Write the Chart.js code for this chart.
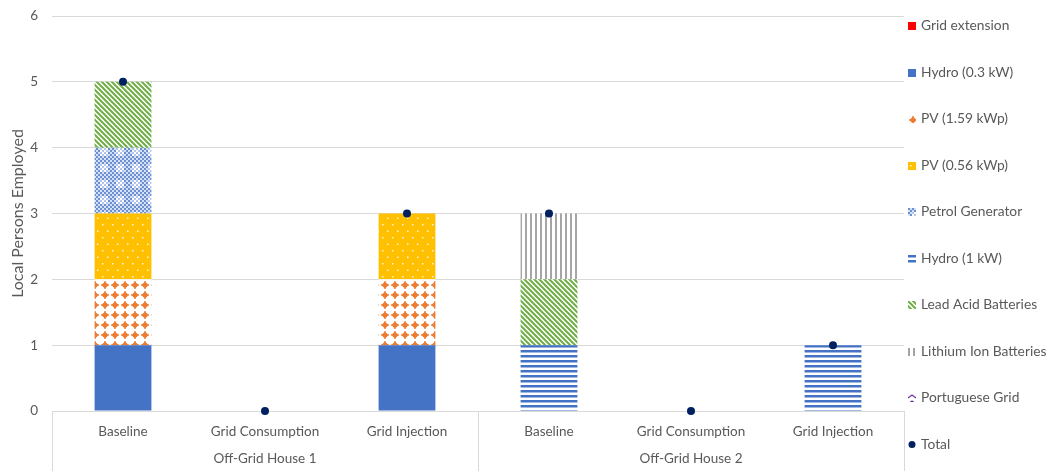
<!DOCTYPE html>
<html>
<head>
<meta charset="utf-8">
<title>Local Persons Employed</title>
<script src="https://cdn.jsdelivr.net/npm/chart.js@4"></script>
<style>
  body { margin: 0; background: #fff; }
  #chart { display: block; }
</style>
</head>
<body>
<canvas id="chart" width="1052" height="471"></canvas>
<script>
// categorias e grupos do eixo x
const categories = ['Baseline', 'Grid Consumption', 'Grid Injection', 'Baseline', 'Grid Consumption', 'Grid Injection'];
const groups = ['Off-Grid House 1', 'Off-Grid House 2'];
const yTicks = [0, 1, 2, 3, 4, 5, 6];

// pessoas empregadas por tecnologia (uma posição por categoria)
const gridExtension   = [0, 0, 0, 0, 0, 0];
const hydro03         = [1, 0, 1, 0, 0, 0];
const pv159           = [1, 0, 1, 0, 0, 0];
const pv056           = [1, 0, 1, 0, 0, 0];
const petrolGenerator = [1, 0, 0, 0, 0, 0];
const hydro1          = [0, 0, 0, 1, 0, 1];
const leadAcid        = [1, 0, 0, 1, 0, 0];
const lithiumIon      = [0, 0, 0, 1, 0, 0];
const portugueseGrid  = [0, 0, 0, 0, 0, 0];
const totals          = [5, 0, 3, 3, 0, 1];

const textColor = '#595959';
const fontFamily = 'Lato, "Liberation Sans", sans-serif';

var canvas = document.getElementById('chart');
var ctx = canvas.getContext('2d');

// * cria um padrão de preenchimento a partir de um ladrilho pequeno
function makePattern(w, h, draw) {
    var tile = document.createElement('canvas');
    tile.width = w;
    tile.height = h;
    var g = tile.getContext('2d');
    draw(g, w, h);
    return ctx.createPattern(tile, 'repeat');
}

var blue = '#4472C4', orange = '#ED7D31', yellow = '#FFC000', green = '#70AD47', gray = '#A5A5A5', purple = '#7030A0';

var patPv159 = makePattern(10, 10, function (g) {
    g.fillStyle = '#fff'; g.fillRect(0, 0, 10, 10);
    g.fillStyle = orange;
    g.beginPath(); g.arc(5, 5, 2.6, 0, Math.PI * 2); g.fill();
    g.fillRect(4.1, 1.2, 1.8, 7.6);
    g.fillRect(1.2, 4.1, 7.6, 1.8);
});

var patPv056 = makePattern(10, 13, function (g) {
    g.fillStyle = yellow; g.fillRect(0, 0, 10, 13);
    g.fillStyle = 'rgba(255,255,255,0.85)';
    g.fillRect(2, 3, 1.5, 1.5);
    g.fillRect(7, 9.5, 1.5, 1.5);
});

var patPetrol = makePattern(16, 16, function (g) {
    g.fillStyle = '#fff'; g.fillRect(0, 0, 16, 16);
    for (let x = 0; x < 16; x += 2) {
        for (let y = 0; y < 16; y += 2) {
            let inner = x >= 4 && x <= 10 && y >= 4 && y <= 10;
            if (((x + y) / 2) % 2 == 0) {
                g.fillStyle = inner ? '#b4c6e9' : '#6a8fd2';
                g.fillRect(x, y, 2, 2);
            } else if (!inner) {
                g.fillStyle = '#d6e0f3';
                g.fillRect(x, y, 2, 2);
            }
        }
    }
});

var patHydro1 = makePattern(4, 5, function (g) {
    g.fillStyle = '#fff'; g.fillRect(0, 0, 4, 5);
    g.fillStyle = blue; g.fillRect(0, 0, 4, 2.5);
});

var patLeadAcid = makePattern(5, 5, function (g) {
    g.fillStyle = '#fff'; g.fillRect(0, 0, 5, 5);
    g.strokeStyle = green; g.lineWidth = 2;
    g.beginPath();
    g.moveTo(-1, -1); g.lineTo(6, 6);
    g.moveTo(-1, 4); g.lineTo(1, 6);
    g.moveTo(4, -1); g.lineTo(6, 1);
    g.stroke();
});

var patLithium = makePattern(5, 4, function (g) {
    g.fillStyle = '#fff'; g.fillRect(0, 0, 5, 4);
    g.fillStyle = gray; g.fillRect(0, 0, 2, 4);
});

var patPortuguese = makePattern(8, 6, function (g) {
    g.fillStyle = '#fff'; g.fillRect(0, 0, 8, 6);
    g.strokeStyle = purple; g.lineWidth = 1.2;
    g.beginPath();
    g.moveTo(0, 4); g.lineTo(4, 1); g.lineTo(8, 4);
    g.stroke();
});

function barSet(label, values, fill) {
    return {
        type: 'bar',
        label: label,
        data: values,
        backgroundColor: fill,
        borderWidth: 0,
        stack: 'tecnologias',
        order: 1,
        categoryPercentage: 0.8,
        barPercentage: 0.5
    };
}

var datasets = [
    barSet('Grid extension', gridExtension, '#FF0000'),
    barSet('Hydro (0.3 kW)', hydro03, blue),
    barSet('PV (1.59 kWp)', pv159, patPv159),
    barSet('PV (0.56 kWp)', pv056, patPv056),
    barSet('Petrol Generator', petrolGenerator, patPetrol),
    barSet('Hydro (1 kW)', hydro1, patHydro1),
    barSet('Lead Acid Batteries', leadAcid, patLeadAcid),
    barSet('Lithium Ion Batteries', lithiumIon, patLithium),
    barSet('Portuguese Grid', portugueseGrid, patPortuguese),
    {
        type: 'line',
        label: 'Total',
        data: totals,
        stack: 'total',
        order: 0,
        clip: false,
        showLine: false,
        pointRadius: 4,
        pointBackgroundColor: '#002060',
        pointBorderColor: '#002060',
        pointBorderWidth: 0
    }
];

// * rótulos dos grupos e linhas divisórias abaixo do eixo x
var groupAxis = {
    id: 'groupAxis',
    afterDraw(chart) {
        var c = chart.ctx;
        var x = chart.scales.x;
        var area = chart.chartArea;
        var per = categories.length / groups.length;
        c.save();
        c.strokeStyle = '#D9D9D9';
        c.lineWidth = 1;
        var edges = [x.left];
        for (let i = 1; i < groups.length; i++) {
            edges.push((x.getPixelForTick(i * per - 1) + x.getPixelForTick(i * per)) / 2);
        }
        edges.push(x.right);
        edges.forEach(function (ex) {
            c.beginPath();
            c.moveTo(Math.round(ex) + 0.5, area.bottom);
            c.lineTo(Math.round(ex) + 0.5, chart.height);
            c.stroke();
        });
        c.fillStyle = textColor;
        c.font = '13.5px ' + fontFamily;
        c.textAlign = 'center';
        c.textBaseline = 'middle';
        groups.forEach(function (name, i) {
            c.fillText(name, (edges[i] + edges[i + 1]) / 2, area.bottom + 48);
        });
        c.restore();
    }
};

// * legenda vertical à direita
var sideLegend = {
    id: 'sideLegend',
    afterDraw(chart) {
        var c = chart.ctx;
        var x0 = chart.chartArea.right + 4;
        c.save();
        c.font = '13.8px ' + fontFamily;
        c.textBaseline = 'middle';
        c.textAlign = 'left';
        chart.data.datasets.forEach(function (ds, i) {
            var y = 26 + i * 46.5;
            if (ds.type == 'line') {
                c.fillStyle = ds.pointBackgroundColor;
                c.beginPath(); c.arc(x0 + 4, y, 3.5, 0, Math.PI * 2); c.fill();
            } else {
                // o padrão começa no canto do quadradinho
                c.save();
                c.translate(x0, Math.round(y - 4));
                c.fillStyle = ds.backgroundColor;
                c.fillRect(0, 0, 8, 8);
                c.restore();
            }
            c.fillStyle = textColor;
            c.fillText(ds.label, x0 + 13, y);
        });
        c.restore();
    }
};

var myChart = new Chart(ctx, {
    data: { labels: categories, datasets: datasets },
    options: {
        responsive: false,
        animation: false,
        layout: { padding: { left: 0, right: 148, top: 16, bottom: 0 } },
        plugins: {
            legend: { display: false },
            tooltip: { enabled: false }
        },
        scales: {
            x: {
                stacked: true,
                grid: { display: false },
                border: { display: true, color: '#D9D9D9' },
                ticks: { color: textColor, font: { family: fontFamily, size: 13.5 }, padding: 5, maxRotation: 0, autoSkip: false },
                afterFit(scale) { scale.height = 60; }
            },
            y: {
                stacked: true,
                min: yTicks[0],
                max: yTicks[yTicks.length - 1],
                afterBuildTicks(scale) { scale.ticks = yTicks.map(v => ({ value: v })); },
                grid: { color: '#D9D9D9', drawTicks: false },
                border: { display: false },
                ticks: { color: textColor, font: { family: fontFamily, size: 13.5 }, padding: 14 },
                title: { display: true, text: 'Local Persons Employed', color: textColor, font: { family: fontFamily, size: 16 }, padding: { top: 8, bottom: 0 } },
                afterFit(scale) {
                    scale.width = 52;
                    scale.paddingTop = 0;
                    scale.paddingBottom = 0;
                }
            }
        }
    },
    plugins: [groupAxis, sideLegend]
});
</script>
</body>
</html>
